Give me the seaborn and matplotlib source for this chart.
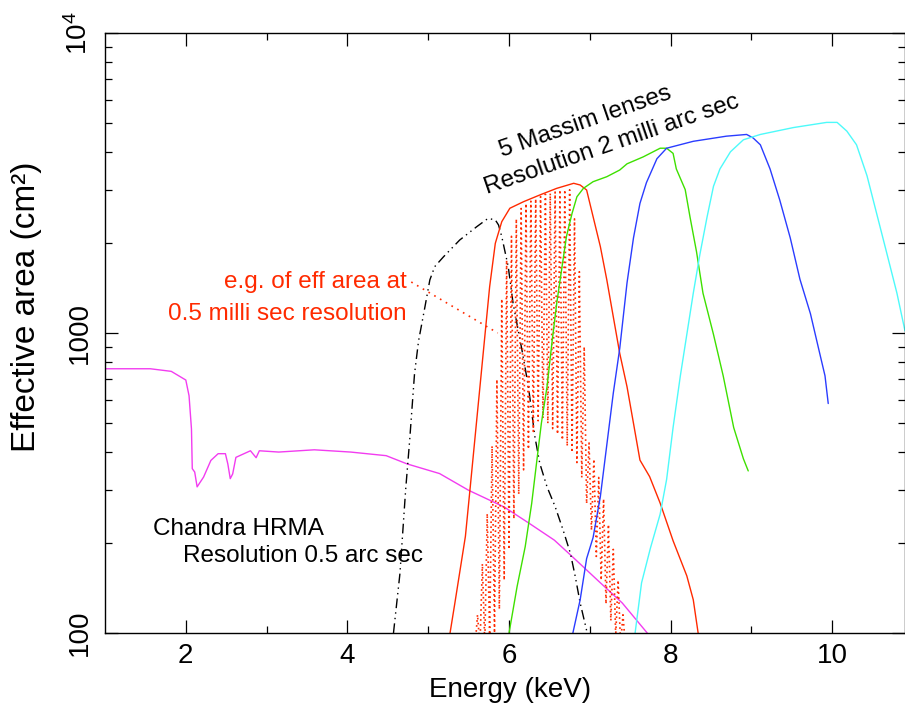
import matplotlib
matplotlib.use("Agg")
import pandas as pd
import matplotlib.pyplot as plt
import seaborn as sns

# Chandra HRMA effective area (keV, cm^2)
chandra_e = [1.0, 1.56, 1.82, 2.0, 2.04, 2.07, 2.08, 2.11, 2.14, 2.22, 2.31, 2.40, 2.49, 2.52,
             2.55, 2.58, 2.62, 2.80, 2.87, 2.91, 3.15, 3.59, 4.04, 4.48, 4.74, 5.14, 5.50,
             5.94, 6.25, 6.56, 6.78, 7.13, 7.40, 7.71]
chandra_a = [760, 760, 745, 697, 618, 479, 353, 344, 307, 331, 376, 396, 396, 366,
             327, 339, 385, 405, 384, 405, 401, 408, 401, 390, 366, 340, 299,
             263, 232, 204, 180, 147, 126, 100]

# black dash-dot curve
black_e = [4.57, 4.65, 4.72, 4.77, 4.83, 4.88, 4.96, 5.02, 5.08, 5.19, 5.39, 5.60, 5.74, 5.83,
           5.87, 5.91, 5.99, 6.05, 6.16, 6.24, 6.32, 6.38, 6.47, 6.57, 6.67, 6.76, 6.82, 6.88, 6.96]
black_a = [100, 158, 299, 438, 729, 940, 1225, 1503, 1664, 1796, 2042, 2261, 2410, 2382,
           2291, 2095, 1664, 1256, 877, 662, 451, 368, 307, 264, 220, 184, 154, 126, 102]

# Massim lenses
red_e = [5.27, 5.33, 5.46, 5.52, 5.58, 5.64, 5.70, 5.76, 5.83, 5.91, 6.01, 6.18, 6.38, 6.59,
         6.80, 6.88, 6.96, 7.04, 7.13, 7.21, 7.29, 7.37, 7.46, 7.54, 7.62, 7.74, 7.87, 8.03,
         8.20, 8.28, 8.34]
red_a = [100, 126, 210, 307, 451, 662, 972, 1427, 1990, 2350, 2605, 2740, 2884, 3035,
         3155, 3114, 2997, 2443, 1941, 1503, 1133, 855, 662, 500, 377, 332, 271, 203,
         155, 129, 100]

green_e = [6.00, 6.10, 6.20, 6.28, 6.34, 6.40, 6.47, 6.53, 6.59, 6.65, 6.71, 6.78, 6.84, 6.92,
           7.04, 7.21, 7.37, 7.46, 7.66, 7.87, 7.95, 8.03, 8.07, 8.18, 8.24, 8.32, 8.40, 8.53,
           8.65, 8.78, 8.90, 8.96]
green_a = [100, 143, 194, 270, 368, 500, 662, 924, 1256, 1622, 2095, 2506, 2845, 3035,
           3194, 3319, 3494, 3664, 3864, 4130, 4130, 3970, 3523, 3006, 2432, 1866, 1358, 989,
           720, 484, 381, 347]

blue_e = [6.79, 6.88, 6.96, 7.04, 7.13, 7.21, 7.29, 7.37, 7.46, 7.54, 7.62, 7.70, 7.83, 7.95,
          8.28, 8.69, 8.94, 9.02, 9.11, 9.23, 9.35, 9.48, 9.60, 9.73, 9.83, 9.91, 9.95]
blue_a = [100, 129, 177, 208, 285, 424, 630, 889, 1469, 2075, 2704, 3170, 3810, 4130,
          4355, 4530, 4590, 4470, 4240, 3523, 2775, 2075, 1510, 1159, 889, 720, 582]

cyan_e = [7.56, 7.64, 7.75, 7.87, 7.95, 8.03, 8.12, 8.20, 8.28, 8.36, 8.45, 8.53, 8.61, 8.74,
          8.90, 9.11, 9.52, 9.93, 10.06, 10.18, 10.30, 10.43, 10.55, 10.67, 10.80, 10.90]
cyan_a = [100, 147, 192, 249, 325, 484, 720, 989, 1358, 1817, 2432, 3083, 3523, 4018,
          4406, 4590, 4840, 5035, 5035, 4710, 4240, 3342, 2497, 1866, 1358, 1016]

# 0.5 milli arc sec resolution example (red dotted, rapidly oscillating)
fine_e = [5.58, 5.61, 5.64, 5.67, 5.70, 5.73, 5.76, 5.79, 5.82, 5.85, 5.88, 5.91, 5.94, 5.97,
          6.00, 6.03, 6.06, 6.09, 6.12, 6.15, 6.18, 6.21, 6.24, 6.27, 6.30, 6.33, 6.36, 6.39,
          6.42, 6.45, 6.48, 6.51, 6.54, 6.57, 6.60, 6.63, 6.66, 6.69, 6.72, 6.75, 6.78, 6.81,
          6.84, 6.87, 6.90, 6.93, 6.96, 6.99, 7.02, 7.05, 7.08, 7.11, 7.14, 7.17, 7.20, 7.23,
          7.26, 7.29, 7.32, 7.35, 7.38, 7.41, 7.44]
fine_a = [90, 115, 90, 170, 92, 250, 95, 420, 100, 700, 120, 1300, 150, 1750,
          190, 2100, 240, 2400, 290, 2600, 350, 2700, 410, 2750, 470, 2800, 510, 2850,
          520, 2900, 500, 2920, 480, 2950, 460, 3000, 440, 3000, 420, 3000, 400, 2400,
          370, 1600, 330, 900, 270, 430, 220, 380, 180, 330, 150, 280, 125, 230,
          110, 190, 98, 150, 92, 115, 90]

# pointer from the red note into the dotted curve
pointer_e = [4.79, 5.86]
pointer_a = [1479, 1000]

sns.set_style("ticks")
plt.rcParams['font.family'] = ['Liberation Sans', 'DejaVu Sans']
plt.rcParams['mathtext.default'] = 'regular'
plt.rcParams['text.color'] = 'black'
plt.rcParams['axes.labelcolor'] = 'black'
plt.rcParams['xtick.color'] = 'black'
plt.rcParams['ytick.color'] = 'black'

fig = plt.figure(figsize=(9.05, 7.04), dpi=100)
ax = fig.add_axes([105 / 905, 71 / 704, 800 / 905, 600 / 704])

red = '#ff2a00'
lw = 1.0
sns.lineplot(x=chandra_e, y=chandra_a, sort=False, estimator=None, color='#f23cf0', lw=lw, ax=ax)
sns.lineplot(x=black_e, y=black_a, sort=False, estimator=None, color='black', lw=lw, ax=ax,
             linestyle=(0, (7, 3, 1, 3, 1, 3)))
sns.lineplot(x=fine_e, y=fine_a, sort=False, estimator=None, color=red, lw=1.2, ax=ax,
             linestyle=(0, (1, 2)))
sns.lineplot(x=red_e, y=red_a, sort=False, estimator=None, color=red, lw=lw, ax=ax)
sns.lineplot(x=green_e, y=green_a, sort=False, estimator=None, color='#3ee000', lw=lw, ax=ax)
sns.lineplot(x=blue_e, y=blue_a, sort=False, estimator=None, color='#2a3cff', lw=lw, ax=ax)
sns.lineplot(x=cyan_e, y=cyan_a, sort=False, estimator=None, color='#4dfafa', lw=lw, ax=ax)
sns.lineplot(x=pointer_e, y=pointer_a, sort=False, estimator=None, color=red, lw=1.2, ax=ax,
             linestyle=(0, (1, 3)))

ax.set_yscale('log')
ax.set_xlim(1, 10.9)
ax.set_ylim(100, 1e4)

ax.set_xticks([2, 4, 6, 8, 10])
ax.set_xticks([3, 5, 7, 9], minor=True)
ax.set_yticks([100, 1000, 10000])
ax.set_yticklabels(['100', '1000', '10$^4$'])
ax.set_yticks([v * m for v in (100, 1000) for m in range(2, 10)], minor=True)
ax.yaxis.set_minor_formatter(plt.NullFormatter())

ax.tick_params(which='both', direction='in', top=True, right=True, width=0.9, colors='black')
ax.tick_params(which='major', length=9.5)
ax.tick_params(which='minor', length=5)
ax.tick_params(axis='x', labelsize=20, pad=7)
ax.tick_params(axis='y', labelsize=20, pad=9, labelrotation=90)
plt.setp(ax.get_yticklabels(), va='center')

for s in ax.spines.values():
    s.set_linewidth(1.0)
    s.set_color('black')

ax.set_xlabel('Energy (keV)', fontsize=20)
ax.xaxis.set_label_coords(0.506, -0.073)
ax.set_ylabel('Effective area (cm²)', fontsize=24)
ax.yaxis.set_label_coords(-0.079, 0.543)

ax.text(0.601, 0.852, '5 Massim lenses', transform=ax.transAxes, fontsize=17.5,
        rotation=19, rotation_mode='anchor', ha='center', va='center')
ax.text(0.634, 0.814, 'Resolution 2 milli arc sec', transform=ax.transAxes, fontsize=17.5,
        rotation=19, rotation_mode='anchor', ha='center', va='center')
ax.text(0.3775, 0.575, 'e.g. of eff area at', transform=ax.transAxes, fontsize=17.5,
        color=red, ha='right', va='baseline')
ax.text(0.3775, 0.522, '0.5 milli sec resolution', transform=ax.transAxes, fontsize=17.5,
        color=red, ha='right', va='baseline')
ax.text(0.06, 0.163, 'Chandra HRMA', transform=ax.transAxes, fontsize=17.5,
        ha='left', va='baseline')
ax.text(0.098, 0.119, 'Resolution 0.5 arc sec', transform=ax.transAxes, fontsize=17.5,
        ha='left', va='baseline')

fig.savefig("out.png", dpi=100)
